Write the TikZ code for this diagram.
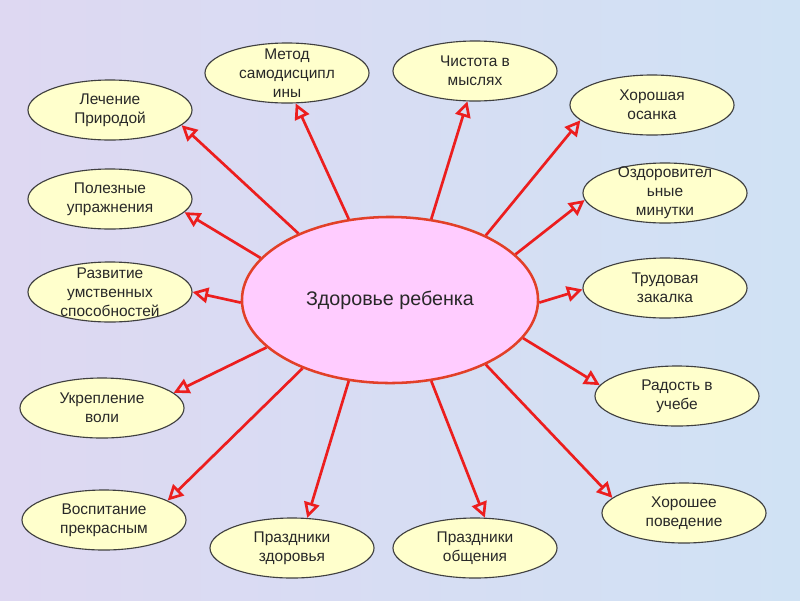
\documentclass[tikz,border=0pt]{standalone}
\usepackage{fontspec}
\setmainfont{Liberation Sans}
\usetikzlibrary{shapes.geometric,arrows.meta}

\definecolor{bgleft}{RGB}{222,216,242}
\definecolor{bgright}{RGB}{208,226,244}
\definecolor{leaffill}{RGB}{255,255,204}
\definecolor{hubfill}{RGB}{255,204,255}
\definecolor{hubline}{RGB}{226,64,40}
\definecolor{arrowred}{RGB}{236,30,30}
\definecolor{txt}{RGB}{40,40,40}

\begin{document}
\begin{tikzpicture}[x=0.025cm,y=-0.025cm]

\tikzstyle{leaf}=[ellipse, draw=black!75, line width=0.8pt, fill=leaffill,
    minimum width=4.1cm, minimum height=1.5cm, inner sep=-5pt,
    align=center, text=txt, font=\fontsize{11}{13.5}\selectfont]
\tikzstyle{hub}=[ellipse, draw=hubline, line width=1.8pt, fill=hubfill,
    minimum width=7.4cm, minimum height=4.15cm, text=txt,
    font=\fontsize{14}{17}\selectfont]
\tikzstyle{arr}=[arrowred, line width=1.9pt,
    -{Triangle[open, length=11pt, width=11pt]}]

% background
\shade[left color=bgleft, right color=bgright] (0,0) rectangle (800,600);
\useasboundingbox (0,0) rectangle (800,600);

\node[hub] (c) at (390,300) {Здоровье ребенка};

\foreach \n/\x/\y/\t in {
    nature/110/110/{Лечение\\Природой},
    method/287/73/{Метод\\самодисципл\\ины},
    mind/475/71/{Чистота в\\мыслях},
    posture/652/105/{Хорошая\\осанка},
    exercise/110/199/{Полезные\\упражнения},
    minutes/665/193/{Оздоровител\\ьные\\минутки},
    intellect/110/292/{Развитие\\умственных\\способностей},
    labour/665/288/{Трудовая\\закалка},
    will/102/408/{Укрепление\\воли},
    joy/677/396/{Радость в\\учебе},
    beauty/104/520/{Воспитание\\прекрасным},
    conduct/684/513/{Хорошее\\поведение},
    healthday/292/548/{Праздники\\здоровья},
    meetday/475/548/{Праздники\\общения}} {
    \node[leaf] (\n) at (\x,\y) {\t};
}

\foreach \a/\n/\b in {144/nature/348, 117/method/286, 63/mind/256,
    34/posture/192, 162/exercise/350, 20/minutes/185, 181/intellect/0,
    -1/labour/181, 201/will/12, -16/joy/172, 218/beauty/17,
    -34/conduct/168, 243/healthday/63, 297/meetday/72} {
    \draw[arr] (c.\a) -- (\n.\b);
}

\end{tikzpicture}
\end{document}
